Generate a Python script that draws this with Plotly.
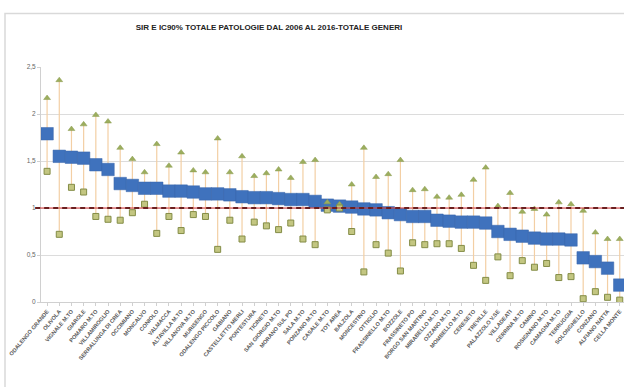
import plotly.graph_objects as go

comuni = [
    "ODALENGO GRANDE", "OLIVOLA", "VIGNALE M.TO", "GIAROLE", "POMARO M.TO",
    "VILLAMIROGLIO", "SERRALUNGA DI CREA", "OCCIMIANO", "MONCALVO", "CONIOLO",
    "VALMACCA", "ALTAVILLA M.TO", "VILLANOVA M.TO", "MURISENGO", "ODALENGO PICCOLO",
    "GABIANO", "CASTELLETTO MERLI", "PONTESTURA", "TICINETO", "SAN GIORGIO M.TO",
    "MORANO SUL PO", "SALA M.TO", "PONZANO M.TO", "CASALE M.TO", "TOT AREA",
    "BALZOLA", "MONCESTINO", "OTTIGLIO", "FRASSINELLO M.TO", "BOZZOLE",
    "FRASSINETO PO", "BORGO SAN MARTINO", "MIRABELLO M.TO", "OZZANO M.TO", "MOMBELLO M.TO",
    "CERESETO", "TREVILLE", "PALAZZOLO V.SE", "VILLADEATI", "CERRINA M.TO",
    "CAMINO", "ROSIGNANO M.TO", "CAMAGNA M.TO", "TERRUGGIA", "SOLONGHELLO",
    "CONZANO", "ALFIANO NATTA", "CELLA MONTE",
]

sir = [
    1.79, 1.55, 1.54, 1.53, 1.46, 1.41, 1.26, 1.24, 1.21, 1.21,
    1.18, 1.18, 1.17, 1.15, 1.15, 1.14, 1.12, 1.11, 1.11, 1.10,
    1.09, 1.09, 1.07, 1.03, 1.02, 1.01, 0.99, 0.98, 0.95, 0.93,
    0.91, 0.91, 0.87, 0.86, 0.85, 0.85, 0.84, 0.75, 0.72, 0.70,
    0.68, 0.67, 0.67, 0.66, 0.47, 0.43, 0.36, 0.18,
]

ic_sup = [
    2.17, 2.36, 1.84, 1.89, 1.99, 1.92, 1.64, 1.52, 1.38, 1.68,
    1.45, 1.59, 1.40, 1.38, 1.74, 1.38, 1.55, 1.34, 1.37, 1.41,
    1.32, 1.49, 1.51, 1.06, 1.04, 1.25, 1.64, 1.33, 1.36, 1.51,
    1.19, 1.20, 1.12, 1.11, 1.14, 1.30, 1.43, 1.02, 1.16, 0.96,
    0.99, 0.93, 1.06, 1.04, 0.97, 0.74, 0.67, 0.67,
]

ic_inf = [
    1.39, 0.72, 1.22, 1.17, 0.91, 0.88, 0.87, 0.95, 1.04, 0.73,
    0.91, 0.76, 0.93, 0.91, 0.56, 0.87, 0.67, 0.85, 0.81, 0.77,
    0.84, 0.67, 0.61, 0.98, 1.00, 0.75, 0.32, 0.61, 0.52, 0.33,
    0.63, 0.61, 0.62, 0.62, 0.57, 0.39, 0.23, 0.48, 0.28, 0.44,
    0.37, 0.41, 0.26, 0.27, 0.035, 0.11, 0.05, 0.02,
]

y_tickvals = [0, 0.5, 1, 1.5, 2, 2.5]
y_ticktext = ["0", "0,5", "1", "1,5", "2", "2,5"]
riferimento = 1

idx = list(range(len(comuni)))
err_plus = [u - s for u, s in zip(ic_sup, sir)]
err_minus = [s - l for s, l in zip(sir, ic_inf)]

fig = go.Figure()

# confidence interval lines (drawn via error bars, no caps)
fig.add_trace(go.Scatter(
    x=idx, y=sir, mode="markers",
    marker=dict(size=1, color="rgba(0,0,0,0)"),
    error_y=dict(type="data", symmetric=False, array=err_plus, arrayminus=err_minus,
                 color="#F3CFA4", thickness=1.2, width=0),
    showlegend=False, hoverinfo="skip",
))

fig.add_trace(go.Scatter(
    x=idx, y=sir, mode="markers", name="SIR",
    marker=dict(symbol="square", size=12.5, color="#3F72BD",
                line=dict(color="#3A67AA", width=0.5)),
    showlegend=False,
))

fig.add_trace(go.Scatter(
    x=idx, y=ic_sup, mode="markers", name="IC sup",
    marker=dict(symbol="triangle-up", size=6, color="#9CAE5E",
                line=dict(color="#8A9B4E", width=0.5)),
    showlegend=False,
))

fig.add_trace(go.Scatter(
    x=idx, y=ic_inf, mode="markers", name="IC inf",
    marker=dict(symbol="square", size=6, color="#C3C681",
                line=dict(color="#838C46", width=1)),
    showlegend=False,
))

# reference line at SIR = 1
fig.add_shape(type="line", xref="paper", yref="y", x0=-0.01, x1=1,
              y0=riferimento, y1=riferimento, line=dict(color="#D9393B", width=1), layer="above")
fig.add_shape(type="line", xref="paper", yref="y", x0=-0.01, x1=1,
              y0=riferimento, y1=riferimento,
              line=dict(color="#6B1F1F", width=1.8, dash="5px,4px"), layer="above")

# outer chart frame
fig.add_shape(type="rect", xref="paper", yref="paper",
              x0=(5 - 41) / 583, x1=1.2, y0=-1, y1=(302.3 - 13) / 235.6,
              line=dict(color="#D9D9D9", width=1.5), layer="below")

fig.update_layout(
    width=624, height=387,
    margin=dict(l=41, r=0, t=67, b=85),
    paper_bgcolor="white", plot_bgcolor="white",
    title=dict(text="SIR E IC90% TOTALE PATOLOGIE DAL 2006 AL 2016-TOTALE GENERI",
               x=269 / 624, xanchor="center", xref="container",
               y=1 - 27 / 387, yanchor="middle", yref="container",
               font=dict(family="Liberation Sans, Arial, sans-serif",
                         size=8, color="#222222", weight="bold")),
    xaxis=dict(
        range=[-0.5, 47.35], tickmode="array", tickvals=idx, ticktext=comuni,
        tickangle=-50, showgrid=False, zeroline=False,
        showline=True, linecolor="#D0D0D0", linewidth=1,
        ticks="outside", ticklen=3, tickcolor="#D0D0D0",
        tickfont=dict(family="Liberation Sans, Arial, sans-serif",
                      size=5.6, color="#5A5A5A", weight="bold"),
    ),
    yaxis=dict(
        range=[0, 2.5], tickmode="array", tickvals=y_tickvals, ticktext=y_ticktext,
        showgrid=True, gridcolor="#DCDCDC", gridwidth=1, zeroline=False,
        showline=True, linecolor="#D0D0D0", linewidth=1,
        ticks="outside", ticklen=3, tickcolor="#D0D0D0",
        tickfont=dict(family="Liberation Sans, Arial, sans-serif",
                      size=6.5, color="#666666"),
    ),
)

fig.write_html("out.html")
